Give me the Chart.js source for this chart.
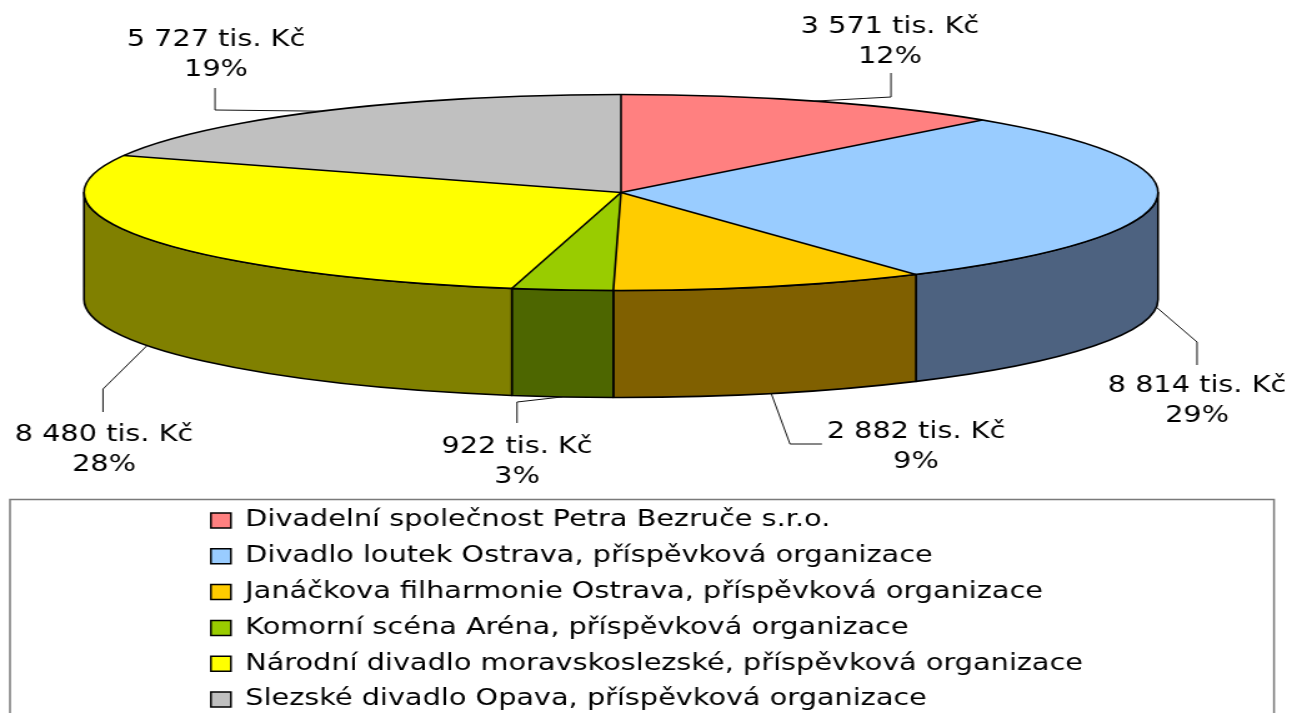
<!DOCTYPE html>
<html>
<head>
<meta charset="utf-8">
<script src="https://cdn.jsdelivr.net/npm/chart.js@4/dist/chart.umd.min.js"></script>
<style>
html,body{margin:0;padding:0;overflow:hidden;background:#fff;}
#c{display:block;width:1292px !important;height:721px !important;}
</style>
</head>
<body>
<canvas id="c" width="1034" height="721" style="width:1292px;height:721px"></canvas>
<script>
// ---- data ----
const categories = [
  'Divadelní společnost Petra Bezruče s.r.o.',
  'Divadlo loutek Ostrava, příspěvková organizace',
  'Janáčkova filharmonie Ostrava, příspěvková organizace',
  'Komorní scéna Aréna, příspěvková organizace',
  'Národní divadlo moravskoslezské, příspěvková organizace',
  'Slezské divadlo Opava, příspěvková organizace'
];
const values = [3571, 8814, 2882, 922, 8480, 5727];
const valueUnit = 'tis. Kč';

// ---- styles ----
const topColors = ['#FF8080', '#99CCFF', '#FFCC00', '#99CC00', '#FFFF00', '#C0C0C0'];
const sideColors = ['#804040', '#4D6280', '#806000', '#4D6600', '#808000', '#606060'];

// ---- layout (canvas is stretched horizontally by SX) ----
const SX = 1292 / 1034;
const G = { cx: 621 / SX, cy: 192.5, a: 537 / SX, b: 98, depth: 107, r: 100 };
// label placement in page pixels: text centre x, first baseline, leader elbow and end
const labelLayout = [
  { x: 890, base: 33, elbow: [891, 97], end: [891, 73] },
  { x: 1197, base: 392, elbow: [1197, 342], end: [1197, 365] },
  { x: 916, base: 438, elbow: [790, 444], end: [822, 444] },
  { x: 517, base: 453, elbow: [517, 402], end: [517, 423] },
  { x: 104, base: 441, elbow: [103, 389], end: [103, 412] },
  { x: 216, base: 46, elbow: [215, 110], end: [215, 88] }
];

function fmt(v) { return String(v).replace(/\B(?=(\d{3})+(?!\d))/g, ' '); }

const pie3d = {
  id: 'pie3d',
  beforeDatasetsDraw(chart) {
    const ctx = chart.ctx;
    const meta = chart.getDatasetMeta(0);
    const { cx, cy, a, b, depth } = G;
    // side walls
    ctx.save();
    ctx.lineWidth = 1.6;
    ctx.strokeStyle = '#000';
    ctx.lineJoin = 'round';
    meta.data.forEach((el, i) => {
      const t1 = Math.max(el.startAngle, 0);
      const t2 = Math.min(el.endAngle, Math.PI);
      if (t2 <= t1) return;
      ctx.beginPath();
      ctx.ellipse(cx, cy, a, b, 0, t1, t2);
      ctx.lineTo(cx + a * Math.cos(t2), cy + b * Math.sin(t2) + depth);
      ctx.ellipse(cx, cy + depth, a, b, 0, t2, t1, true);
      ctx.closePath();
      ctx.fillStyle = sideColors[i];
      ctx.fill();
      ctx.stroke();
    });
    ctx.restore();
    // squash the library's pie into the top face
    const el0 = meta.data[0];
    ctx.save();
    ctx.translate(cx, cy);
    ctx.scale(a / G.r, b / G.r);
    ctx.translate(-el0.x, -el0.y);
  },
  afterDatasetsDraw(chart) {
    const ctx = chart.ctx;
    ctx.restore();
    const meta = chart.getDatasetMeta(0);
    const { cx, cy, a, b, depth } = G;
    ctx.save();
    ctx.lineWidth = 1.6;
    ctx.strokeStyle = '#000';
    ctx.lineJoin = 'round';
    ctx.beginPath();
    ctx.ellipse(cx, cy, a, b, 0, 0, Math.PI * 2);
    ctx.stroke();
    meta.data.forEach((el) => {
      ctx.beginPath();
      ctx.moveTo(cx, cy);
      ctx.lineTo(cx + a * Math.cos(el.startAngle), cy + b * Math.sin(el.startAngle));
      ctx.stroke();
    });
    // labels
    const total = values.reduce((s, v) => s + v, 0);
    ctx.font = '23px "DejaVu Sans"';
    ctx.fillStyle = '#000';
    ctx.textAlign = 'center';
    ctx.textBaseline = 'alphabetic';
    meta.data.forEach((el, i) => {
      const L = labelLayout[i];
      const mid = (el.startAngle + el.endAngle) / 2;
      const sx = cx + a * Math.cos(mid);
      let sy = cy + b * Math.sin(mid);
      if (Math.sin(mid) > 0) sy += depth;
      ctx.beginPath();
      ctx.moveTo(sx, sy);
      ctx.lineTo(L.elbow[0] / SX, L.elbow[1]);
      ctx.lineTo(L.end[0] / SX, L.end[1]);
      ctx.lineWidth = 1;
      ctx.strokeStyle = '#111';
      ctx.stroke();
      ctx.fillText(fmt(values[i]) + ' ' + valueUnit, L.x / SX, L.base);
      ctx.fillText(Math.round(values[i] / total * 100) + '%', L.x / SX, L.base + 30);
    });
    ctx.restore();
  },
  afterDraw(chart) {
    const ctx = chart.ctx;
    ctx.save();
    ctx.strokeStyle = '#7a7a7a';
    ctx.lineWidth = 1.5;
    ctx.strokeRect(10 / SX, 499.5, (1274 - 10) / SX, 400);
    ctx.restore();
  }
};

new Chart(document.getElementById('c'), {
  type: 'pie',
  data: {
    labels: categories,
    datasets: [{
      data: values,
      backgroundColor: topColors,
      borderWidth: 0,
      radius: G.r,
      hoverOffset: 0
    }]
  },
  options: {
    responsive: false,
    animation: false,
    devicePixelRatio: 1,
    events: [],
    layout: { padding: { left: 156, right: 0, top: 0, bottom: 0 } },
    plugins: {
      legend: {
        position: 'bottom',
        align: 'start',
        labels: {
          boxWidth: 16,
          boxHeight: 15,
          padding: 12.8,
          color: '#000',
          font: { family: 'DejaVu Sans', size: 23 },
          generateLabels: () => categories.map((t, i) => ({
            text: t, fillStyle: topColors[i], strokeStyle: '#000',
            lineWidth: 1.5, hidden: false, index: i, datasetIndex: 0
          }))
        }
      },
      tooltip: { enabled: false }
    }
  },
  plugins: [pie3d]
});
</script>
</body>
</html>
